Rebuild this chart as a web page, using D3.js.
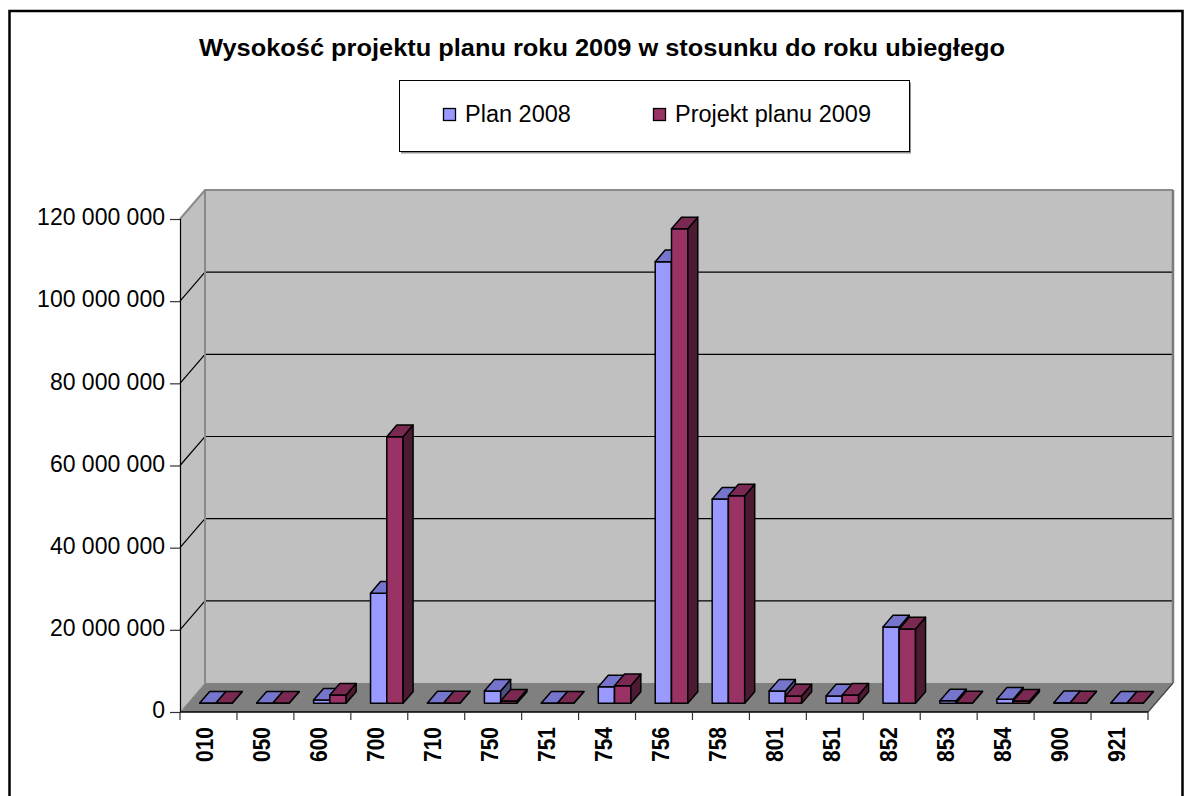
<!DOCTYPE html>
<html><head><meta charset="utf-8">
<script src="https://cdn.jsdelivr.net/npm/d3@7"></script>
<style>body{margin:0;background:#fff}svg{display:block;font-family:"Liberation Sans",Arial,sans-serif}</style>
</head><body>
<svg id="c" width="1184" height="796"></svg>
<script>
const categories = ["010","050","600","700","710","750","751","754","756","758","801","851","852","853","854","900","921"];
const seriesNames = ["Plan 2008","Projekt planu 2009"];
const plan2008 = [50000, 50000, 800000, 26800000, 100000, 3000000, 50000, 4000000, 107500000, 49700000, 3000000, 1800000, 18600000, 600000, 1000000, 150000, 50000];
const projekt2009 = [50000, 50000, 2000000, 64900000, 100000, 550000, 50000, 4300000, 115500000, 50500000, 1800000, 2000000, 18100000, 100000, 550000, 100000, 50000];
const yTicks = [0, 20000000, 40000000, 60000000, 80000000, 100000000, 120000000];
const title = "Wysokość projektu planu roku 2009 w stosunku do roku ubiegłego";

const svg = d3.select("#c");
const X0 = 180, X1 = 1148, Y0 = 712, YT = 219, DX = 25, DY = -29;
const DF = 0.3, DB = 0.7;
const y = d3.scaleLinear().domain([0, 120000000]).range([Y0, YT]);
const x = d3.scaleBand().domain(categories).range([X0, X1]);
const cw = x.bandwidth();
const groupW = cw * 2 / 3.5;
const xs = d3.scaleBand().domain(seriesNames).range([(cw - groupW) / 2, (cw + groupW) / 2]);
const P = (px, py, d) => [px + d * DX, py + d * DY];

// outer frame
svg.append("rect").attr("x", 9.5).attr("y", 11).attr("width", 1173).attr("height", 800)
  .attr("fill", "#fff").attr("stroke", "#000").attr("stroke-width", 2.5);

// title
svg.append("text").attr("x", 199).attr("y", 56).attr("font-size", 23).attr("font-weight", "bold")
  .attr("textLength", 806).attr("lengthAdjust", "spacingAndGlyphs").text(title);

// legend
const lg = svg.append("g");
lg.append("rect").attr("x", 401).attr("y", 82.5).attr("width", 510).attr("height", 71).attr("fill", "#909090");
lg.append("rect").attr("x", 399.5).attr("y", 80.5).attr("width", 510).attr("height", 71).attr("fill", "#fff").attr("stroke", "#000").attr("stroke-width", 1);
const legendX = [443, 653];
const colors = {front: ["#9999FF", "#993366"], top: ["#7575CC", "#7A2952"], side: ["#4D4D80", "#4D1A33"]};
seriesNames.forEach((s, i) => {
  lg.append("rect").attr("x", legendX[i] + 0.5).attr("y", 108.5).attr("width", 12).attr("height", 12)
    .attr("fill", colors.front[i]).attr("stroke", "#000").attr("stroke-width", 1.3);
  lg.append("text").attr("x", legendX[i] + 22).attr("y", 121.5).attr("font-size", 23.5).text(s);
});

// walls
const line = d3.line();
const poly = pts => "M" + pts.map(p => p.join(",")).join("L") + "Z";
// left wall
svg.append("path").attr("d", poly([[X0, YT], P(X0, YT, 1), P(X0, Y0, 1), [X0, Y0]])).attr("fill", "#C0C0C0");
// back wall
svg.append("path").attr("d", poly([P(X0, YT, 1), P(X1, YT, 1), P(X1, Y0, 1), P(X0, Y0, 1)])).attr("fill", "#C0C0C0");
// floor
svg.append("path").attr("d", poly([[X0, Y0], [X1, Y0], P(X1, Y0, 1), P(X0, Y0, 1)])).attr("fill", "#808080");

// gridlines
yTicks.filter(v => v > 0 && v < 120000000).forEach(v => {
  svg.append("path").attr("d", line([[X0, y(v)], P(X0, y(v), 1), P(X1, y(v), 1)]))
    .attr("fill", "none").attr("stroke", "#000").attr("stroke-width", 1.2);
});
// wall edges
svg.append("path").attr("d", line([[X0, YT], P(X0, YT, 1), P(X1, YT, 1)])).attr("fill", "none").attr("stroke", "#8a8a8a").attr("stroke-width", 2);
svg.append("path").attr("d", line([P(X0, YT, 1), P(X0, Y0, 1)])).attr("fill", "none").attr("stroke", "#8a8a8a").attr("stroke-width", 2);
svg.append("path").attr("d", line([P(X1, YT, 1), P(X1, Y0, 1)])).attr("fill", "none").attr("stroke", "#7a7a7a").attr("stroke-width", 2.5);
svg.append("path").attr("d", line([[X1, Y0], P(X1, Y0, 1)])).attr("fill", "none").attr("stroke", "#444").attr("stroke-width", 1.2);
svg.append("path").attr("d", line([[X0, Y0], P(X0, Y0, 1)])).attr("fill", "none").attr("stroke", "#9a9a9a").attr("stroke-width", 1);

// bars
const data = [plan2008, projekt2009];
categories.forEach((c, ci) => {
  seriesNames.forEach((s, si) => {
    const v = data[si][ci];
    const xl = x(c) + xs(s), xr = xl + xs.bandwidth();
    const yt = y(v), yb = y(0);
    const g = svg.append("g").attr("stroke", "#000").attr("stroke-width", 1.5).attr("stroke-linejoin", "round");
    g.append("path").attr("d", poly([P(xl, yb, DF), P(xr, yb, DF), P(xr, yt, DF), P(xl, yt, DF)])).attr("fill", colors.front[si]);
    g.append("path").attr("d", poly([P(xr, yb, DF), P(xr, yb, DB), P(xr, yt, DB), P(xr, yt, DF)])).attr("fill", colors.side[si]);
    g.append("path").attr("d", poly([P(xl, yt, DF), P(xr, yt, DF), P(xr, yt, DB), P(xl, yt, DB)])).attr("fill", colors.top[si]);
  });
});

// y axis
const yAxis = d3.axisLeft(y).tickValues(yTicks).tickSize(10).tickPadding(5)
  .tickFormat(v => d3.format(",")(v).replace(/,/g, " "));
const ya = svg.append("g").attr("transform", `translate(${X0},0)`).call(yAxis);
ya.select(".domain").attr("stroke", "#000").attr("stroke-width", 1.2);
ya.selectAll(".tick line").attr("stroke", "#333").attr("stroke-width", 1.2);
ya.selectAll(".tick text").attr("font-size", 23).attr("fill", "#000").attr("font-family", "'Liberation Sans',Arial,sans-serif").attr("dy", "0.25em");

// x axis
svg.append("line").attr("x1", X0).attr("x2", X1).attr("y1", Y0).attr("y2", Y0).attr("stroke", "#000").attr("stroke-width", 1.5);
categories.concat(["__end"]).forEach((c, i) => {
  const bx = i < categories.length ? x(c) : X1;
  svg.append("line").attr("x1", bx).attr("x2", bx).attr("y1", Y0).attr("y2", Y0 + 8).attr("stroke", "#333").attr("stroke-width", 1.2);
});
categories.forEach(c => {
  const cx = x(c) + cw / 2 - 3;
  svg.append("text").attr("transform", `translate(${cx + 8},${Y0 + 15}) rotate(-90)`)
    .attr("text-anchor", "end").attr("font-size", 23).attr("font-weight", "bold")
    .attr("textLength", 35).attr("lengthAdjust", "spacingAndGlyphs").text(c);
});
</script>
</body></html>
